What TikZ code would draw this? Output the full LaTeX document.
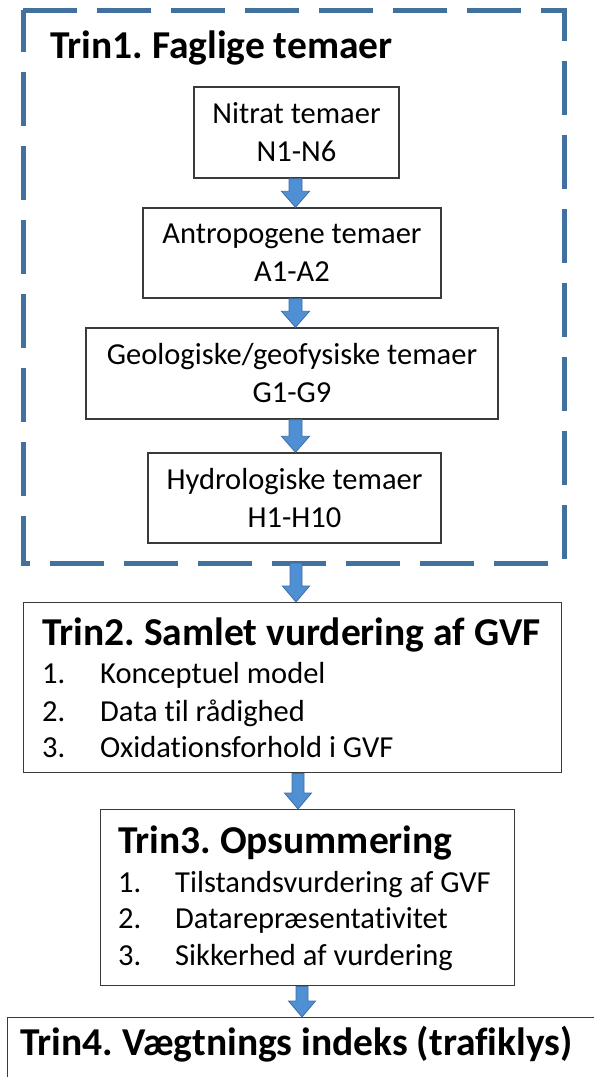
\documentclass[tikz,border=0pt]{standalone}
\usepackage{fontspec}
\setmainfont{Carlito}[Ligatures=NoCommon]
\usetikzlibrary{calc}
\definecolor{dashblue}{HTML}{41719C}
\definecolor{arrowfill}{HTML}{4F8FD3}
\definecolor{arrowline}{HTML}{3F6FA3}
\definecolor{boxline}{HTML}{3A3A3A}
\tikzset{
  themebox/.style={draw=boxline, line width=1.4pt, fill=white, inner sep=0pt, align=center,
    font=\fontsize{30.5}{38}\selectfont},
  stagebox/.style={draw=boxline, line width=1.4pt, fill=white, inner sep=0pt, anchor=north west},
  titletext/.style={inner sep=0pt, anchor=base west, font=\fontsize{39.5}{46}\selectfont\bfseries},
  itemtext/.style={inner sep=0pt, anchor=base west, font=\fontsize{30.5}{38}\selectfont},
  blockarrow/.style={fill=arrowfill, draw=arrowline, line width=0.8pt, line join=miter},
  dashframe/.style={draw=dashblue, line width=5pt, dash pattern=on 54pt off 20pt}
}
\newcommand\bigarrow[3]{% from node, to node, x centre
  \path let \p1=(#1.south), \p2=(#2.north) in
    [blockarrow] (#3-6.5,\y1) -- (#3+6.5,\y1) -- (#3+6.5,\y2+16pt) -- (#3+14,\y2+16pt)
    -- (#3,\y2) -- (#3-14,\y2+16pt) -- (#3-6.5,\y2+16pt) -- cycle;}
\frenchspacing
\begin{document}
\begin{tikzpicture}[x=1pt,y=-1pt]
\useasboundingbox (0,0) rectangle (594,1077);
\clip (0,0) rectangle (594,1077);
\fill[white] (0,0) rectangle (594,1077);

% Trin 1 frame
\coordinate (f1) at (23,10);
\coordinate (f2) at (564,10);
\coordinate (f3) at (564,563);
\coordinate (f4) at (23,563);
\draw[dashframe] (f1) -- (f2) -- (f3) -- (f4) -- cycle;
\node[titletext] (t1) at (50,58) {Trin1. Faglige temaer};

\node[themebox, minimum width=205pt, minimum height=91pt] (nit) at (296.5,132.5) {Nitrat temaer\\N1-N6};
\node[themebox, minimum width=298pt, minimum height=90pt] (ant) at (292,253) {Antropogene temaer\\A1-A2};
\node[themebox, minimum width=412pt, minimum height=91pt] (geo) at (292,373.5) {Geologiske/geofysiske temaer\\G1-G9};
\node[themebox, minimum width=293pt, minimum height=90pt] (hyd) at (294.5,498) {Hydrologiske temaer\\H1-H10};

\coordinate (frame) at (296,563);

% Trin 2
\node[stagebox, minimum width=538pt, minimum height=170pt] (s2) at (23,602) {};
\node[titletext] (t2) at (42,645) {Trin2. Samlet vurdering af GVF};
\node[itemtext] (s2n1) at (42,683) {1.};
\node[itemtext] (s2i1) at (100,683) {Konceptuel model};
\node[itemtext] (s2n2) at (42,721) {2.};
\node[itemtext] (s2i2) at (100,721) {Data til rådighed};
\node[itemtext] (s2n3) at (42,757) {3.};
\node[itemtext] (s2i3) at (100,757) {Oxidationsforhold i GVF};

% Trin 3
\node[stagebox, minimum width=414pt, minimum height=176pt] (s3) at (100,809) {};
\node[titletext] (t3) at (118,853) {Trin3. Opsummering};
\node[itemtext] (s3n1) at (118,892) {1.};
\node[itemtext] (s3i1) at (175,892) {Tilstandsvurdering af GVF};
\node[itemtext] (s3n2) at (118,928) {2.};
\node[itemtext] (s3i2) at (175,928) {Datarepræsentativitet};
\node[itemtext] (s3n3) at (118,965) {3.};
\node[itemtext] (s3i3) at (175,965) {Sikkerhed af vurdering};

% Trin 4
\node[stagebox, minimum width=610pt, minimum height=120pt] (s4) at (7,1017) {};
\node[titletext] (t4) at (20,1055) {Trin4. Vægtnings indeks (trafiklys)};

% arrows
\bigarrow{nit}{ant}{295.5}
\bigarrow{ant}{geo}{295.5}
\bigarrow{geo}{hyd}{295.5}
\path let \p1=(frame), \p2=(s2.north) in
  [blockarrow] (290,\y1) -- (302,\y1) -- (302,\y2+16pt) -- (309.5,\y2+16pt)
  -- (296,\y2) -- (282.5,\y2+16pt) -- (290,\y2+16pt) -- cycle;
\path let \p1=(s2.south), \p2=(s3.north) in
  [blockarrow] (292,\y1) -- (304,\y1) -- (304,\y2+16pt) -- (311.5,\y2+16pt)
  -- (298,\y2) -- (284.5,\y2+16pt) -- (292,\y2+16pt) -- cycle;
\path let \p1=(s3.south), \p2=(s4.north) in
  [blockarrow] (296,\y1) -- (308,\y1) -- (308,\y2+16pt) -- (315.5,\y2+16pt)
  -- (302,\y2) -- (288.5,\y2+16pt) -- (296,\y2+16pt) -- cycle;
\end{tikzpicture}
\end{document}
